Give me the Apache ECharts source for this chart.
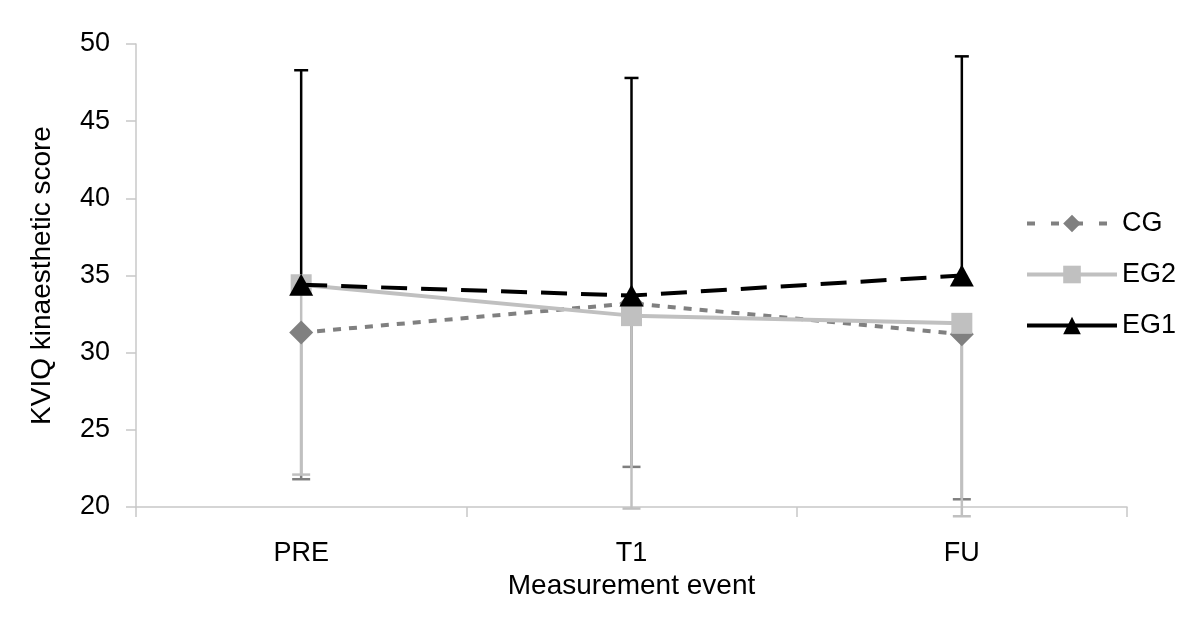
<!DOCTYPE html>
<html><head><meta charset="utf-8">
<script src="https://cdn.jsdelivr.net/npm/echarts@6/dist/echarts.min.js"></script>
<style>html,body{margin:0;padding:0;background:#fff}#c{width:1200px;height:634px}</style>
</head><body><div id="c"></div>
<script>
const categories = ['PRE', 'T1', 'FU'];
const seriesNames = ['CG', 'EG2', 'EG1'];
const cgMean = [31.3, 33.2, 31.2];
const eg2Mean = [34.4, 32.4, 31.9];
const eg1Mean = [34.4, 33.7, 35.0];
const cgLower = [21.8, 22.6, 20.5];
const eg2Lower = [22.1, 19.9, 19.4];
const eg1Upper = [48.3, 47.8, 49.2];
const yTicks = [20, 25, 30, 35, 40, 45, 50];

const FONT = "'Liberation Sans Narrow', 'Liberation Sans', Arial, sans-serif";

function errSeries(name, means, ends, color, capW, z) {
  return {
    type: 'custom', name: name + ' err', z: z, silent: true,
    data: categories.map((c, i) => [i, means[i], ends[i]]),
    renderItem: function (params, api) {
      const p1 = api.coord([api.value(0), api.value(1)]);
      const p2 = api.coord([api.value(0), api.value(2)]);
      return {
        type: 'group', children: [
          { type: 'line', shape: { x1: p1[0], y1: p1[1], x2: p2[0], y2: p2[1] }, style: { stroke: color, lineWidth: 2.5 } },
          { type: 'line', shape: { x1: p2[0] - capW / 2, y1: p2[1], x2: p2[0] + capW / 2, y2: p2[1] }, style: { stroke: color, lineWidth: 2.5 } }
        ]
      };
    },
    clip: false
  };
}

const chart = echarts.init(document.getElementById('c'), null, { renderer: 'canvas' });
chart.setOption({
  animation: false,
  backgroundColor: '#ffffff',
  textStyle: { fontFamily: FONT },
  grid: { left: 136, right: 73, top: 44, bottom: 127 },
  legend: {
    orient: 'vertical', left: 1020, top: 205,
    itemWidth: 90, itemHeight: 22, itemGap: 24,
    data: [
      { name: seriesNames[0], lineStyle: { width: 4, type: [8, 16] } },
      { name: seriesNames[1], lineStyle: { width: 4 } },
      { name: seriesNames[2], lineStyle: { width: 4, type: 'solid' } }
    ],
    textStyle: { fontFamily: FONT, fontSize: 27, color: '#000' }
  },
  xAxis: {
    type: 'category', data: categories, boundaryGap: true,
    axisLine: { lineStyle: { color: '#c8c8c8', width: 1.5 } },
    axisTick: { show: true, length: 10, lineStyle: { color: '#c8c8c8', width: 1.5 } },
    axisLabel: { fontFamily: FONT, fontSize: 27, color: '#000', margin: 33 },
    name: 'Measurement event', nameLocation: 'middle', nameGap: 54,
    nameTextStyle: { fontFamily: FONT, fontSize: 28, color: '#000' }
  },
  yAxis: {
    type: 'value', min: 20, max: 50, interval: 5,
    axisLine: { show: true, lineStyle: { color: '#c8c8c8', width: 1.5 } },
    axisTick: { show: true, length: 10, lineStyle: { color: '#c8c8c8', width: 1.5 } },
    splitLine: { show: false },
    axisLabel: { fontFamily: FONT, fontSize: 27, color: '#000', margin: 26,
      formatter: v => yTicks.includes(v) ? String(v) : '' },
    name: 'KVIQ kinaesthetic score', nameLocation: 'middle', nameGap: 80, nameRotate: 90,
    nameTextStyle: { fontFamily: FONT, fontSize: 28, color: '#000' }
  },
  series: [
    errSeries('CG', cgMean, cgLower, '#7f7f7f', 18, 1),
    errSeries('EG2', eg2Mean, eg2Lower, '#c0c0c0', 18, 2),
    errSeries('EG1', eg1Mean, eg1Upper, '#000000', 14, 3),
    {
      name: 'CG', type: 'line', data: cgMean, z: 4,
      symbol: 'diamond', symbolSize: [24, 24], showAllSymbol: true,
      itemStyle: { color: '#808080' },
      lineStyle: { color: '#808080', width: 4, type: [8, 8] }
    },
    {
      name: 'EG2', type: 'line', data: eg2Mean, z: 5,
      symbol: 'rect', symbolSize: [21, 21],
      itemStyle: { color: '#c0c0c0' },
      lineStyle: { color: '#c0c0c0', width: 4, type: 'solid' }
    },
    {
      name: 'EG1', type: 'line', data: eg1Mean, z: 6,
      symbol: 'triangle', symbolSize: [24, 22],
      itemStyle: { color: '#000000' },
      lineStyle: { color: '#000000', width: 4, type: [26, 14] }
    }
  ]
});
</script>
</body></html>
